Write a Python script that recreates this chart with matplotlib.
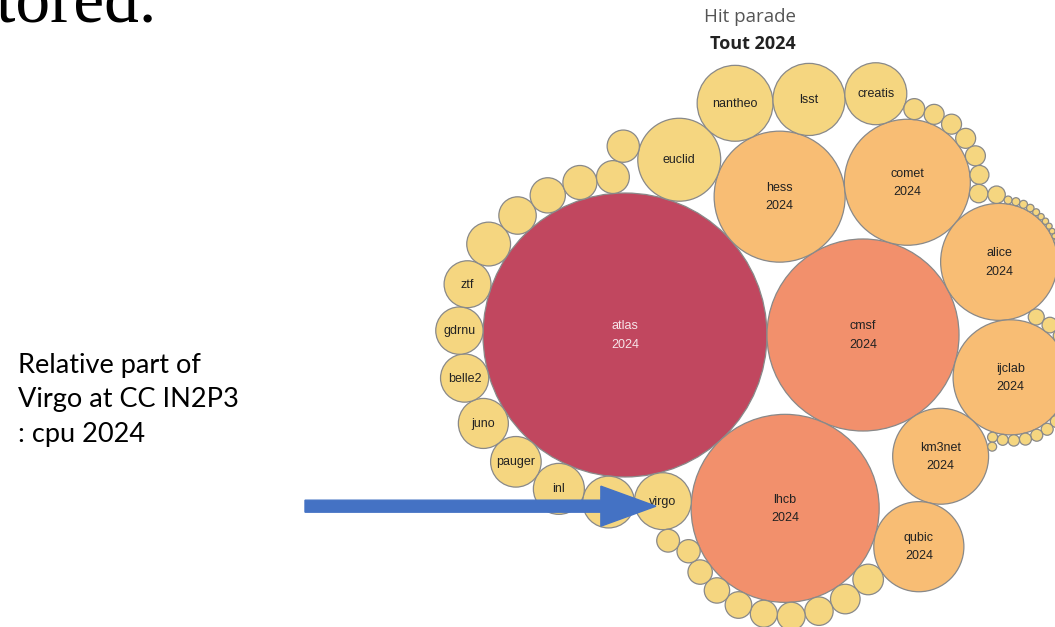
import math
import matplotlib
matplotlib.use('Agg')
import matplotlib.pyplot as plt
from matplotlib.patches import Circle, FancyArrow

# cpu share per group, 2024 (arbitrary units)
names = ['atlas', 'cmsf', 'lhcb', 'hess', 'comet', 'alice', 'ijclab', 'km3net',
         'qubic', 'euclid', 'nantheo', 'lsst', 'creatis', 'virgo', 'lirio', 'inl',
         'pauger', 'juno', 'belle2', 'gdrnu', 'ztf']
values = [2016, 922, 884, 429, 397, 342, 331, 230,
          203, 172, 144, 130, 96, 81, 67, 65,
          64, 62.5, 58, 56, 55]
# unlabeled small groups
others = [48, 35, 31, 29, 27, 26, 23.4, 21.9, 20.2, 19.6, 18.2, 17.7, 16.1, 14.9,
          13.5, 13.0, 11.0, 10.0, 10.0, 10.0, 10.0, 9.0, 8.5, 7.6, 6.4, 6.1, 5.6,
          4.9, 4.9, 4.5, 4.5, 4.0, 4.0, 3.6, 3.6, 3.6, 3.6, 3.2, 3.0, 2.5,
          2.0, 1.6, 1.6, 1.6, 1.4, 1.2, 1.0, 1.0, 0.9, 0.8, 0.7, 0.6]
year = '2024'


def place(b, a, c):
    dx = b[0] - a[0]
    dy = b[1] - a[1]
    d2 = dx * dx + dy * dy
    if d2:
        a2 = (a[2] + c[2]) ** 2
        b2 = (b[2] + c[2]) ** 2
        if a2 > b2:
            x = (d2 + b2 - a2) / (2 * d2)
            y = math.sqrt(max(0, b2 / d2 - x * x))
            c[0] = b[0] - x * dx - y * dy
            c[1] = b[1] - x * dy + y * dx
        else:
            x = (d2 + a2 - b2) / (2 * d2)
            y = math.sqrt(max(0, a2 / d2 - x * x))
            c[0] = a[0] + x * dx - y * dy
            c[1] = a[1] + x * dy + y * dx
    else:
        c[0] = a[0] + c[2]
        c[1] = a[1]


def intersects(a, b):
    dr = a[2] + b[2] - 1e-6
    dx = b[0] - a[0]
    dy = b[1] - a[1]
    return dr > 0 and dr * dr > dx * dx + dy * dy


def pack(radii):
    # front chain packing: keep going round the chain, and when a bubble
    # closes a gap restart next to the biggest bubble still on the chain
    C = [[0.0, 0.0, r] for r in radii]
    n = len(C)
    C[0][0] = -C[1][2]
    C[1][0] = C[0][2]
    place(C[1], C[0], C[2])
    nxt = {0: 1, 1: 2, 2: 0}
    prv = {2: 1, 0: 2, 1: 0}
    a, b = 0, 1

    def tangent(k):
        A = C[k]
        B = C[nxt[k]]
        ab = A[2] + B[2]
        return ((A[0] * B[2] + B[0] * A[2]) / ab,
                (A[1] * B[2] + B[1] * A[2]) / ab)

    i = 3
    pruned = False
    while i < n:
        c = i
        place(C[a], C[b], C[c])
        j, k = nxt[b], prv[a]
        sj, sk = C[b][2], C[a][2]
        hit = False
        while True:
            if sj <= sk:
                if intersects(C[j], C[c]):
                    b = j
                    nxt[a] = b
                    prv[b] = a
                    hit = True
                    break
                sj += C[j][2]
                j = nxt[j]
            else:
                if intersects(C[k], C[c]):
                    a = k
                    nxt[a] = b
                    prv[b] = a
                    hit = True
                    break
                sk += C[k][2]
                k = prv[k]
            if j == nxt[k]:
                break
        if hit:
            pruned = True
            continue
        prv[c] = a
        nxt[c] = b
        nxt[a] = c
        prv[b] = c
        if pruned:
            # biggest bubble on the chain, take the side far from the last one
            chain = [c]
            m = nxt[c]
            while m != c:
                chain.append(m)
                m = nxt[m]
            big = max(chain, key=lambda q: C[q][2])
            best, bd = None, -1
            for q in (prv[big], big):
                tx, ty = tangent(q)
                d = (tx - C[c][0]) ** 2 + (ty - C[c][1]) ** 2
                if d > bd:
                    best, bd = q, d
            a = best
            b = nxt[a]
        else:
            a = c
            b = nxt[c]
        pruned = False
        i += 1
    return C


def colour(v):
    if v >= 1500:
        return '#C1475F'
    if v >= 600:
        return '#F2906C'
    if v >= 180:
        return '#F8BD74'
    return '#F5D680'


all_vals = values + others
labels = names + [''] * len(others)
scale = math.sqrt(10)          # px per sqrt(unit)
radii = [scale * math.sqrt(v) for v in all_vals]
circles = pack(radii)

# anchor the biggest bubble in the figure
ox = 625 - circles[0][0]
oy = 335 - circles[0][1]

fig = plt.figure(figsize=(10.55, 6.27), dpi=100)
ax = fig.add_axes([0, 0, 1, 1])
ax.set_xlim(0, 1055)
ax.set_ylim(627, 0)
ax.axis('off')

for (x, y, r), v, lab in zip(circles, all_vals, labels):
    cx, cy = x + ox, y + oy
    ax.add_patch(Circle((cx, cy), r, facecolor=colour(v), edgecolor='#898989',
                        linewidth=0.9, zorder=2))
    if lab:
        if v >= 180:
            txt = lab + '\n' + year
        else:
            txt = lab
        col = '#F7E4E9' if v >= 1500 else '#222222'
        ax.text(cx, cy + 0.5, txt, ha='center', va='center', fontsize=9,
                family='Liberation Sans', color=col, linespacing=1.7, zorder=3)

# titles
ax.text(750, 17, 'Hit parade', ha='center', va='center', fontsize=13.5,
        family='Open Sans', color='#555555')
ax.text(753, 44, 'Tout 2024', ha='center', va='center', fontsize=13,
        family='Open Sans', fontweight='bold', color='#222222')

# leftover of the slide title
ax.text(157, 22, 'stored.', ha='right', va='baseline', fontsize=50,
        family='Liberation Serif', color='black')

ax.text(18, 400, 'Relative part of\nVirgo at CC IN2P3\n: cpu 2024', ha='left',
        va='center', fontsize=19.5, family='Lato', color='black', linespacing=1.48)

# arrow pointing at virgo
vi = names.index('virgo')
vx, vy = circles[vi][0] + ox, circles[vi][1] + oy
ax.add_patch(FancyArrow(305, vy + 5, vx - 7 - 305, 0, width=12, head_width=40,
                        head_length=55, length_includes_head=True,
                        color='#4472C4', zorder=5))

plt.savefig('out.png', dpi=100)
